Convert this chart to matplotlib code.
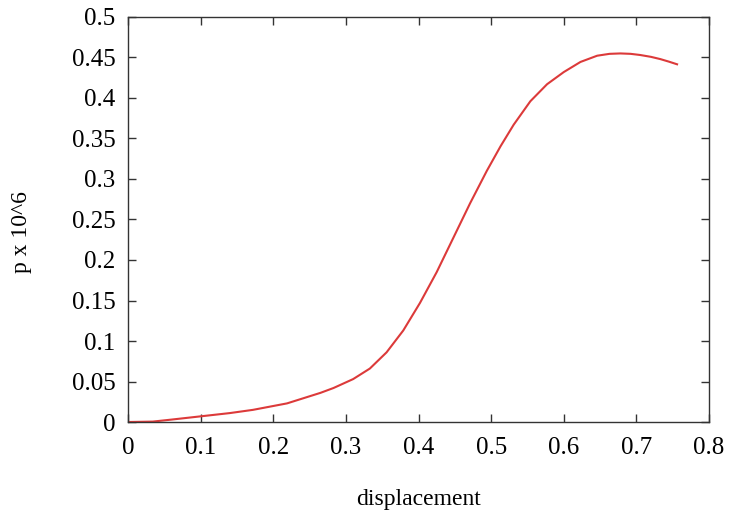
import matplotlib
matplotlib.use("Agg")
from matplotlib import pyplot as plt

# valeurs
disp = [0, 0.034, 0.06, 0.1, 0.14, 0.172, 0.219, 0.265, 0.283, 0.31, 0.333,
        0.356, 0.379, 0.402, 0.425, 0.448, 0.471, 0.494, 0.513, 0.531, 0.554,
        0.577, 0.6, 0.623, 0.646, 0.663, 0.678, 0.692, 0.705, 0.72, 0.733,
        0.745, 0.756]
p = [0, 0.0005, 0.003, 0.007, 0.011, 0.015, 0.023, 0.036, 0.042, 0.053, 0.066,
     0.086, 0.113, 0.147, 0.185, 0.2275, 0.27, 0.31, 0.3405, 0.367, 0.396,
     0.417, 0.432, 0.4445, 0.4522, 0.4545, 0.455, 0.4545, 0.4531, 0.4508, 0.448,
     0.4448, 0.4416]

xticks = [0, 0.1, 0.2, 0.3, 0.4, 0.5, 0.6, 0.7, 0.8]
xlabels = ["0", "0.1", "0.2", "0.3", "0.4", "0.5", "0.6", "0.7", "0.8"]
yticks = [0, 0.05, 0.1, 0.15, 0.2, 0.25, 0.3, 0.35, 0.4, 0.45, 0.5]
ylabels = ["0", "0.05", "0.1", "0.15", "0.2", "0.25", "0.3", "0.35", "0.4", "0.45", "0.5"]

plt.rcParams['font.family'] = ['Liberation Serif', 'DejaVu Serif']

fig = plt.figure(figsize=(7.29, 5.21), dpi=100)
ax = fig.add_axes([0.1756, 0.19, 0.797, 0.7774])

ax.plot(disp, p, color='#dc3a3a', lw=1.5)

ax.set_xlim(0, 0.8)
ax.set_ylim(0, 0.5)
ax.set_xticks(xticks)
ax.set_xticklabels(xlabels)
ax.set_yticks(yticks)
ax.set_yticklabels(ylabels)
ax.tick_params(direction='in', length=6, width=1, top=True, right=True,
               labelsize=18, color='#333333')
ax.tick_params(axis='x', pad=11)
ax.tick_params(axis='y', pad=9)

for s in ax.spines.values():
    s.set_color('#333333')
    s.set_linewidth(1)

ax.set_xlabel("displacement", fontsize=17)
ax.xaxis.set_label_coords(0.5, -0.165)
ax.set_ylabel("p x 10^6", fontsize=17)
ax.yaxis.set_label_coords(-0.165, 0.469)

fig.savefig("out.png", dpi=100)
